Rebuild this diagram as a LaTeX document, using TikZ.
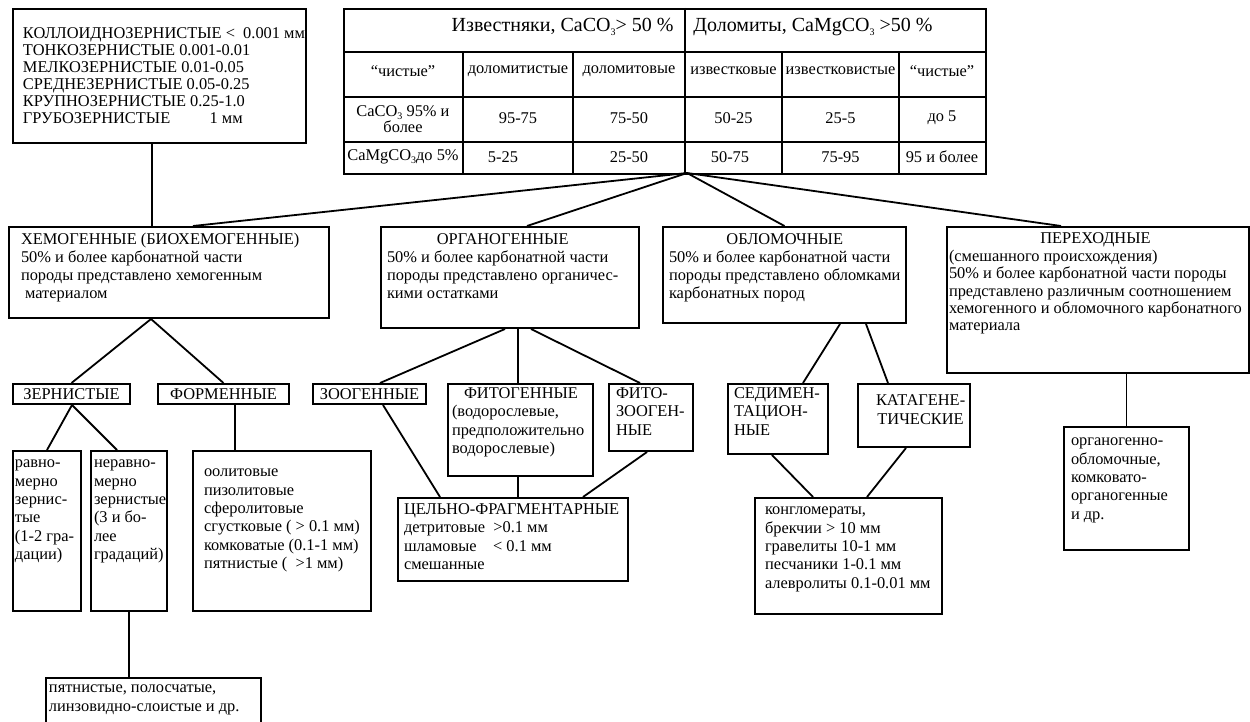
\documentclass[tikz,border=0pt]{standalone}
\usepackage{fontspec}
\setmainfont{Liberation Serif}
\usepackage{tikz}
\newcommand{\bodyfont}{\fontsize{8.2}{9.2}\selectfont}
\newcommand{\inbox}[5]{\parbox[c][#2][t]{#1}{\vspace*{#3}\hspace*{#4}\begin{tabular}{@{}l@{}}#5\end{tabular}}}
\newcommand{\chemsub}[1]{\raisebox{-0.35ex}{\fontsize{5}{5}\selectfont #1}}
\tikzstyle{box} = [draw, line width=1pt, rectangle, inner sep=0pt, anchor=north west, font=\bodyfont]
\tikzstyle{cell} = [inner sep=0pt, font=\bodyfont, align=center]
\tikzstyle{head} = [inner sep=0pt, font=\fontsize{10}{11}\selectfont]
\tikzstyle{link} = [line width=0.9pt]

\begin{document}
\begin{tikzpicture}[x=0.5pt, y=-0.5pt]
    \useasboundingbox (0,0) rectangle (1250,722);
    % grain size scale
    \node (grain) [box, font=\fontsize{8.2}{8.5}\selectfont] at (12,8) {\inbox{146.5pt}{67pt}{8.7pt}{5pt}{%
        КОЛЛОИДНОЗЕРНИСТЫЕ <\ \ 0.001 мм\\
        ТОНКОЗЕРНИСТЫЕ 0.001-0.01\\
        МЕЛКОЗЕРНИСТЫЕ 0.01-0.05\\
        СРЕДНЕЗЕРНИСТЫЕ 0.05-0.25\\
        КРУПНОЗЕРНИСТЫЕ 0.25-1.0\\
        ГРУБОЗЕРНИСТЫЕ\hspace{2.4em}1 мм}};
    % composition table
    \node (tbl) [draw, line width=1.2pt, inner sep=0pt, anchor=north west, minimum width=321pt, minimum height=82.5pt] at (343,8) {};
    \foreach \y in {52,97,142} \draw [line width=0.8pt] (343,\y) -- (985,\y);
    \foreach \x in {463,573,782,899} \draw [line width=0.8pt] (\x,52) -- (\x,173);
    \draw [line width=0.8pt] (685,8) -- (685,173);
    \node (lime) [head, anchor=base east] at (674,32) {Известняки, CaCO\chemsub{3}> 50 \%};
    \node (dolo) [head, anchor=base west] at (693,32) {Доломиты, CaMgCO\chemsub{3} >50 \%};
    \node (n1) [cell] at (403,71) {“чистые”};
    \node (n2) [cell] at (518,71) {доломитистые};
    \node (n3) [cell] at (629,71) {доломитовые};
    \node (n4) [cell] at (733.5,71) {известковые};
    \node (n5) [cell] at (840.5,71) {известковистые};
    \node (n6) [cell] at (942,71) {“чистые”};
    \node (ca1) [cell, font=\fontsize{8.2}{8}\selectfont] at (403,119) {CaCO\chemsub{3} 95\% и\\более};
    \node (ca2) [cell] at (518,118) {95-75};
    \node (ca3) [cell] at (629,118) {75-50};
    \node (ca4) [cell] at (733.5,118) {50-25};
    \node (ca5) [cell] at (840.5,118) {25-5};
    \node (ca6) [cell] at (942,118) {до 5};
    \node (mg1) [cell] at (403,157) {CaMgCO\chemsub{3}до 5\%};
    \node (mg2) [cell] at (503,157) {5-25};
    \node (mg3) [cell] at (629,157) {25-50};
    \node (mg4) [cell] at (730,157) {50-75};
    \node (mg5) [cell] at (840.5,157) {75-95};
    \node (mg6) [cell] at (942,157) {95 и более};
    \coordinate (tblfoot) at (687,173);
    % genetic groups
    \node (chem) [box, font=\fontsize{8.2}{9}\selectfont] at (8,226) {\inbox{160pt}{45.5pt}{2.4pt}{6pt}{%
        ХЕМОГЕННЫЕ (БИОХЕМОГЕННЫЕ)\\
        50\% и более карбонатной части\\
        породы представлено хемогенным\\
        \ материалом}};
    \node (organ) [box, font=\fontsize{8.2}{9}\selectfont] at (380,226) {\inbox{129pt}{50.5pt}{2.4pt}{3pt}{%
        \multicolumn{1}{c}{ОРГАНОГЕННЫЕ}\\
        50\% и более карбонатной части\\
        породы представлено органичес-\\
        кими остатками}};
    \node (clast) [box, font=\fontsize{8.2}{9}\selectfont] at (662,226) {\inbox{121.5pt}{48pt}{2.4pt}{3pt}{%
        \multicolumn{1}{c}{ОБЛОМОЧНЫЕ}\\
        50\% и более карбонатной части\\
        породы представлено обломками\\
        карбонатных пород}};
    \node (trans) [box, font=\fontsize{8.2}{8.7}\selectfont] at (946,226) {\inbox{151pt}{73pt}{2.4pt}{1pt}{%
        \multicolumn{1}{c}{ПЕРЕХОДНЫЕ}\\
        (смешанного происхождения)\\
        50\% и более карбонатной части породы\\
        представлено различным соотношением\\
        хемогенного и обломочного карбонатного\\
        материала}};
    % subgroups
    \node (grainy) [box, minimum width=58.5pt, minimum height=10pt] at (12,383) {ЗЕРНИСТЫЕ};
    \node (form) [box, minimum width=65.5pt, minimum height=10pt] at (157,383) {ФОРМЕННЫЕ};
    \node (zoo) [box, minimum width=56.5pt, minimum height=10pt] at (312,383) {ЗООГЕННЫЕ};
    \node (phyto) [box] at (447,383) {\inbox{72.5pt}{46pt}{0.8pt}{2pt}{%
        \multicolumn{1}{c}{ФИТОГЕННЫЕ}\\
        (водорослевые,\\
        предположительно\\
        водорослевые)}};
    \node (phzoo) [box] at (608,383) {\inbox{42pt}{33.5pt}{0.8pt}{3.5pt}{ФИТО-\\ЗООГЕН-\\НЫЕ}};
    \node (sedim) [box] at (727,383) {\inbox{50pt}{35pt}{0.8pt}{3pt}{СЕДИМЕН-\\ТАЦИОН-\\НЫЕ}};
    \node (catag) [box] at (857,383) {\inbox{56pt}{31.5pt}{4.5pt}{3pt}{%
        \multicolumn{1}{c}{КАТАГЕНЕ-}\\
        \multicolumn{1}{c}{ТИЧЕСКИЕ}}};
    % varieties
    \node (ravno) [box] at (12,450) {\inbox{34pt}{80pt}{1.9pt}{1pt}{равно-\\мерно\\зернис-\\тые\\(1-2 гра-\\дации)}};
    \node (neravno) [box] at (90,450) {\inbox{38pt}{80pt}{1.9pt}{1.5pt}{неравно-\\мерно\\зернистые\\(3 и бо-\\лее\\градаций)}};
    \node (oolit) [box] at (192,450) {\inbox{89pt}{80pt}{6.4pt}{5.5pt}{%
        оолитовые\\
        пизолитовые\\
        сферолитовые\\
        сгустковые ( > 0.1 мм)\\
        комковатые (0.1-1 мм)\\
        пятнистые (\ \ >1 мм)}};
    \node (whole) [box] at (397,497) {\inbox{115pt}{41.5pt}{1.8pt}{3pt}{%
        ЦЕЛЬНО-ФРАГМЕНТАРНЫЕ\\
        детритовые\hspace{0.5em}>0.1 мм\\
        шламовые\hspace{1em}< 0.1 мм\\
        смешанные}};
    \node (conglo) [box] at (754,497) {\inbox{93.5pt}{58pt}{1.9pt}{5pt}{%
        конгломераты,\\
        брекчии > 10 мм\\
        гравелиты 10-1 мм\\
        песчаники 1-0.1 мм\\
        алевролиты 0.1-0.01 мм}};
    \node (child) [box] at (1063,426) {\inbox{62.5pt}{61.5pt}{2.9pt}{3.5pt}{%
        органогенно-\\
        обломочные,\\
        комковато-\\
        органогенные\\
        и др.}};
    \node (spots) [box] at (45,677) {\inbox{107.5pt}{60pt}{0.9pt}{1.5pt}{%
        пятнистые, полосчатые,\\
        линзовидно-слоистые и др.}};
    % links
    \draw [link] (grain.south -| 152,0) -- (chem.north -| 152,0);
    \draw [link] (tblfoot) -- (chem.north -| 193,0);
    \draw [link] (tblfoot) -- (organ.north -| 527,0);
    \draw [link] (tblfoot) -- (clast.north);
    \draw [link] (tblfoot) -- (trans.north -| 1061,0);
    \draw [link] (chem.south -| 151,0) -- (grainy.north);
    \draw [link] (chem.south -| 151,0) -- (form.north);
    \draw [link] (organ.south -| 505,0) -- (zoo.north -| 380,0);
    \draw [link] (organ.south -| 518,0) -- (phyto.north -| 518,0);
    \draw [link] (organ.south -| 531,0) -- (phzoo.north -| 640,0);
    \draw [link] (clast.south -| 840,0) -- (sedim.north -| 803,0);
    \draw [link] (clast.south -| 866,0) -- (catag.north -| 888,0);
    \draw [link] (trans.south -| child.north) -- (child.north);
    \draw [link] (grainy.south -| 72,0) -- (ravno.north);
    \draw [link] (grainy.south -| 72,0) -- (neravno.north -| 117,0);
    \draw [link] (form.south -| 235,0) -- (oolit.north -| 235,0);
    \draw [link] (zoo.south -| 383,0) -- (whole.north -| 440,0);
    \draw [link] (phyto.south -| 518,0) -- (whole.north -| 518,0);
    \draw [link] (phzoo.south -| 647,0) -- (whole.north -| 583,0);
    \draw [link] (sedim.south -| 772,0) -- (conglo.north -| 813,0);
    \draw [link] (catag.south -| 906,0) -- (conglo.north -| 867,0);
    \draw [link] (neravno.south) -- (spots.north -| neravno.south);
\end{tikzpicture}
\end{document}
